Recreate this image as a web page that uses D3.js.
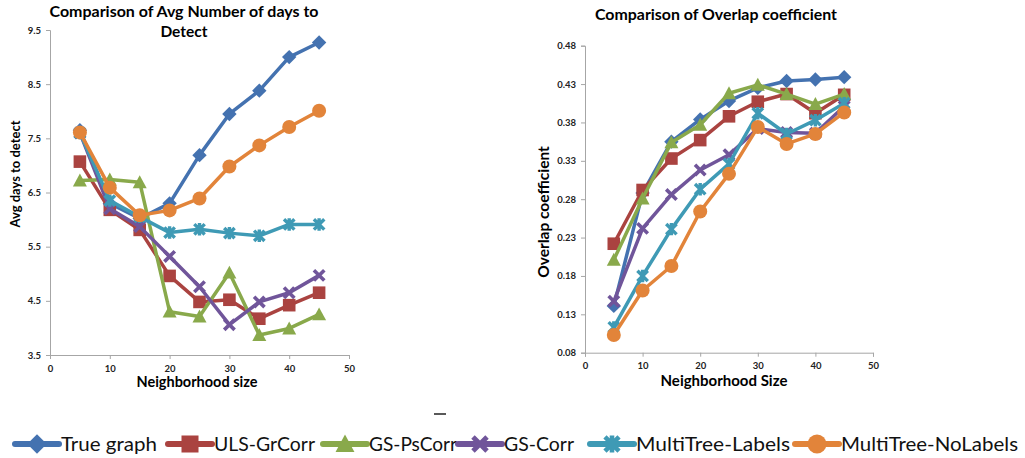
<!DOCTYPE html>
<html>
<head>
<meta charset="utf-8">
<script src="https://cdn.jsdelivr.net/npm/d3@7"></script>
<style>
  html, body { margin: 0; padding: 0; background: #fff; }
  svg { display: block; font-family: "Lato", "Open Sans", sans-serif; }
</style>
</head>
<body>
<svg id="chart" width="1025" height="458"></svg>
<script>
// ---------- data ----------
const neighborhoodSizes = [5, 10, 15, 20, 25, 30, 35, 40, 45];
const seriesNames = ["True graph", "ULS-GrCorr", "GS-PsCorr", "GS-Corr", "MultiTree-Labels", "MultiTree-NoLabels"];

// Left chart: Avg days to detect
const daysTrueGraph   = [7.65, 6.30, 6.02, 6.30, 7.19, 7.95, 8.38, 9.00, 9.27];
const daysULSGrCorr   = [7.07, 6.18, 5.81, 4.96, 4.48, 4.52, 4.17, 4.42, 4.65];
const daysGSPsCorr    = [6.72, 6.74, 6.69, 4.30, 4.21, 5.02, 3.87, 3.99, 4.25];
const daysGSCorr      = [7.60, 6.20, 5.87, 5.32, 4.76, 4.06, 4.48, 4.65, 4.97];
const daysMTLabels    = [7.60, 6.35, 6.05, 5.76, 5.82, 5.75, 5.70, 5.91, 5.91];
const daysMTNoLabels  = [7.61, 6.59, 6.08, 6.17, 6.39, 6.98, 7.37, 7.71, 8.01];

// Right chart: Overlap coefficient
const ovTrueGraph   = [0.141, 0.288, 0.355, 0.384, 0.408, 0.425, 0.434, 0.436, 0.439];
const ovULSGrCorr   = [0.222, 0.292, 0.333, 0.357, 0.388, 0.407, 0.417, 0.392, 0.416];
const ovGSPsCorr    = [0.201, 0.281, 0.354, 0.377, 0.418, 0.429, 0.417, 0.404, 0.417];
const ovGSCorr      = [0.147, 0.242, 0.286, 0.318, 0.338, 0.372, 0.367, 0.366, 0.401];
const ovMTLabels    = [0.113, 0.180, 0.241, 0.293, 0.326, 0.392, 0.365, 0.383, 0.405];
const ovMTNoLabels  = [0.103, 0.161, 0.193, 0.264, 0.313, 0.374, 0.352, 0.365, 0.393];

const daysTicks = [3.5, 4.5, 5.5, 6.5, 7.5, 8.5, 9.5];
const ovTicks = [0.08, 0.13, 0.18, 0.23, 0.28, 0.33, 0.38, 0.43, 0.48];
const xTicks = [0, 10, 20, 30, 40, 50];

const colors = ["#4472B0", "#AA4340", "#89A94B", "#70559A", "#3F9AB5", "#E2843A"];
const markers = ["diamond", "square", "triangle", "x", "star", "circle"];

// ---------- helpers ----------
const svg = d3.select("#chart");
svg.append("rect").attr("width", 1025).attr("height", 458).attr("fill", "#fff");

function drawMarker(g, type, x, y, color, s) {
  const k = s || 1;
  if (type === "diamond") {
    const r = 7.2 * k;
    g.append("path").attr("d", `M${x},${y - r}L${x + r},${y}L${x},${y + r}L${x - r},${y}Z`).attr("fill", color);
  } else if (type === "square") {
    const h = 6.3 * k;
    g.append("rect").attr("x", x - h).attr("y", y - h).attr("width", 2 * h).attr("height", 2 * h).attr("fill", color);
  } else if (type === "triangle") {
    const h = 7 * k;
    g.append("path").attr("d", `M${x},${y - h}L${x + h},${y + h * 0.85}L${x - h},${y + h * 0.85}Z`).attr("fill", color);
  } else if (type === "x") {
    const h = 5.2 * k;
    g.append("path").attr("d", `M${x - h},${y - h}L${x + h},${y + h}M${x - h},${y + h}L${x + h},${y - h}`)
      .attr("stroke", color).attr("stroke-width", 3.6 * k).attr("fill", "none");
  } else if (type === "star") {
    const h = 5.2 * k;
    g.append("path").attr("d", `M${x - h},${y - h}L${x + h},${y + h}M${x - h},${y + h}L${x + h},${y - h}M${x},${y - h * 1.2}L${x},${y + h * 1.2}`)
      .attr("stroke", color).attr("stroke-width", 3.4 * k).attr("fill", "none");
  } else if (type === "circle") {
    g.append("circle").attr("cx", x).attr("cy", y).attr("r", 7 * k).attr("fill", color);
  }
}

function drawChart(cfg) {
  const g = svg.append("g");
  const x = d3.scaleLinear().domain([0, 50]).range([cfg.left, cfg.right]);
  const y = d3.scaleLinear().domain(cfg.yDomain).range([cfg.bottom, cfg.top]);

  const yAxis = d3.axisLeft(y).tickValues(cfg.yTicks).tickSize(4).tickPadding(5).tickFormat(cfg.yFmt);
  const xAxis = d3.axisBottom(x).tickValues(xTicks).tickSize(4).tickPadding(6).tickFormat(d3.format("d"));

  const ya = g.append("g").attr("transform", `translate(${cfg.left},0)`).call(yAxis);
  const xa = g.append("g").attr("transform", `translate(0,${cfg.bottom})`).call(xAxis);
  [ya, xa].forEach(a => {
    a.select(".domain").attr("stroke", "#A6A6A6").attr("stroke-width", 1);
    a.selectAll(".tick line").attr("stroke", "#A6A6A6");
    a.selectAll(".tick text").attr("fill", "#222").attr("font-weight", "bold")
      .attr("font-size", cfg.tickFont).attr("font-family", "Lato, sans-serif");
  });

  const line = d3.line().x((d, i) => x(neighborhoodSizes[i])).y(d => y(d));
  cfg.series.forEach((vals, si) => {
    const sg = g.append("g");
    sg.append("path").datum(vals).attr("d", line).attr("fill", "none")
      .attr("stroke", colors[si]).attr("stroke-width", 3.5).attr("stroke-linejoin", "round");
    vals.forEach((v, i) => drawMarker(sg, markers[si], x(neighborhoodSizes[i]), y(v), colors[si]));
  });

  cfg.titleLines.forEach((t, i) => {
    const tt = g.append("text").attr("x", cfg.titleX).attr("y", cfg.titleY + i * 20).attr("text-anchor", "middle")
      .attr("font-weight", "bold").attr("font-size", cfg.titleFont).attr("fill", "#000").text(t);
    if (cfg.titleLens[i]) tt.attr("textLength", cfg.titleLens[i]).attr("lengthAdjust", "spacingAndGlyphs");
  });
  g.append("text").attr("x", cfg.xTitleX).attr("y", cfg.xTitleY).attr("text-anchor", "middle")
    .attr("font-weight", "bold").attr("font-size", cfg.xTitleFont).attr("fill", "#000").text(cfg.xTitle);
  g.append("text").attr("transform", `translate(${cfg.yTitleX},${cfg.yTitleY}) rotate(-90)`).attr("text-anchor", "middle")
    .attr("font-weight", "bold").attr("font-size", cfg.yTitleFont).attr("fill", "#000").text(cfg.yTitle);
}

drawChart({
  left: 50, right: 349, top: 30, bottom: 355,
  yDomain: [3.5, 9.5], yTicks: daysTicks, yFmt: d3.format(".1f"), tickFont: 9.5,
  series: [daysTrueGraph, daysULSGrCorr, daysGSPsCorr, daysGSCorr, daysMTLabels, daysMTNoLabels],
  titleLines: ["Comparison of Avg Number of days to", "Detect"], titleLens: [269, 0], titleX: 184, titleY: 17, titleFont: 15.5,
  xTitle: "Neighborhood size", xTitleX: 197, xTitleY: 387, xTitleFont: 14.5,
  yTitle: "Avg days to detect", yTitleX: 20, yTitleY: 174, yTitleFont: 13
});

drawChart({
  left: 585, right: 873, top: 45.7, bottom: 352.7,
  yDomain: [0.08, 0.48], yTicks: ovTicks, yFmt: d3.format(".2f"), tickFont: 9.5,
  series: [ovTrueGraph, ovULSGrCorr, ovGSPsCorr, ovGSCorr, ovMTLabels, ovMTNoLabels],
  titleLines: ["Comparison of Overlap coefficient"], titleLens: [242], titleX: 716, titleY: 20, titleFont: 15.5,
  xTitle: "Neighborhood Size", xTitleX: 724, xTitleY: 386, xTitleFont: 15,
  yTitle: "Overlap coefficient", yTitleX: 549, yTitleY: 212, yTitleFont: 15.5
});

// stray mark
svg.append("line").attr("x1", 434).attr("x2", 446).attr("y1", 414).attr("y2", 414)
  .attr("stroke", "#222").attr("stroke-width", 1.5);

// ---------- legend ----------
const legendStarts = [15, 168, 323, 458, 590, 795];
const legendTextLens = [96, 101, 88, 70, 154, 177];
const legend = svg.append("g");
seriesNames.forEach((name, i) => {
  const x0 = legendStarts[i];
  const cy = 444;
  legend.append("line").attr("x1", x0).attr("x2", x0 + 44).attr("y1", cy).attr("y2", cy)
    .attr("stroke", colors[i]).attr("stroke-width", 6).attr("stroke-linecap", "round");
  drawMarker(legend, markers[i], x0 + 22, cy, colors[i], 1.35);
  legend.append("text").attr("x", x0 + 46).attr("y", cy + 7).attr("font-size", 20)
    .attr("textLength", legendTextLens[i]).attr("lengthAdjust", "spacingAndGlyphs")
    .attr("fill", "#111").text(name);
});
</script>
</body>
</html>
